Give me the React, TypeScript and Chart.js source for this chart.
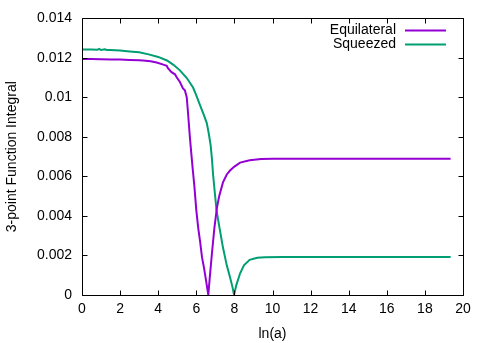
import { useEffect, useRef } from "react";
import { Chart, registerables } from "chart.js";

Chart.register(...registerables);

const seriesNames = ["Equilateral", "Squeezed"];
const seriesColors = ["#9400d3", "#009e73"];

const equiX = [0, 0.5, 1, 1.5, 2, 2.5, 3, 3.2, 3.6, 3.92, 4.27, 4.45, 4.5, 4.7, 4.88, 4.97, 5.14, 5.3, 5.4, 5.5, 5.55, 5.67, 5.8, 5.9, 6.0, 6.1, 6.2, 6.3, 6.4, 6.5, 6.63, 6.7, 6.82, 6.95, 7.08, 7.2, 7.4, 7.6, 7.77, 8.0, 8.3, 8.8, 9.4, 10, 12, 14, 16, 18, 19.35];
const equiY = [0.01194, 0.01194, 0.01193, 0.01192, 0.01192, 0.0119, 0.01188, 0.01187, 0.01183, 0.01177, 0.01166, 0.01160, 0.01149, 0.01128, 0.01117, 0.01102, 0.01078, 0.01046, 0.01036, 0.01000, 0.0094, 0.0079, 0.0065, 0.0055, 0.0043, 0.0034, 0.0027, 0.0019, 0.0014, 0.0008, 0, 0.0008, 0.0021, 0.0034, 0.0044, 0.0050, 0.0057, 0.0061, 0.0063, 0.0065, 0.0067, 0.00682, 0.00688, 0.0069, 0.0069, 0.0069, 0.0069, 0.0069, 0.0069];

const sqzX = [0, 0.5, 0.8, 0.9, 1.0, 1.2, 1.3, 1.5, 2, 2.5, 3.0, 3.5, 4.0, 4.46, 4.8, 5.14, 5.5, 5.83, 6.0, 6.2, 6.4, 6.55, 6.65, 6.75, 6.82, 6.88, 6.97, 7.06, 7.2, 7.4, 7.6, 7.77, 7.9, 7.98, 8.1, 8.3, 8.5, 8.8, 9.2, 9.6, 10.5, 12, 14, 16, 18, 19.35];
const sqzY = [0.01243, 0.01242, 0.01241, 0.01246, 0.01240, 0.01244, 0.01240, 0.01240, 0.01237, 0.01233, 0.01229, 0.01218, 0.01205, 0.01187, 0.01165, 0.01137, 0.01098, 0.0105, 0.0101, 0.0096, 0.0091, 0.0087, 0.0082, 0.0076, 0.0069, 0.0061, 0.0052, 0.0043, 0.0035, 0.0024, 0.0015, 0.0009, 0.0004, 0, 0.0005, 0.0011, 0.0015, 0.00178, 0.00188, 0.00191, 0.00192, 0.00192, 0.00192, 0.00192, 0.00192, 0.00192];

const xMin = 0, xMax = 20, xStep = 2;
const yMin = 0, yMax = 0.014, yStep = 0.002;
const xTitle = "ln(a)";
const yTitle = "3-point Function Integral";

const FONT = "'Liberation Sans', Arial, Helvetica, sans-serif";

const framePlugin = {
  id: "frame",
  afterDatasetsDraw(chart: any) {
    const { ctx, chartArea: a, scales } = chart;
    const L = Math.round(a.left) + 0.5;
    const R = Math.round(a.right) + 0.5;
    const T = Math.round(a.top) + 0.5;
    const B = Math.round(a.bottom) + 0.5;
    ctx.save();
    ctx.strokeStyle = "#000";
    ctx.lineWidth = 1;
    ctx.beginPath();
    ctx.rect(L, T, R - L, B - T);
    const tl = 5;
    scales.x.ticks.forEach((t: any) => {
      const px = Math.round(scales.x.getPixelForValue(t.value)) + 0.5;
      ctx.moveTo(px, B); ctx.lineTo(px, B - tl);
      ctx.moveTo(px, T); ctx.lineTo(px, T + tl);
    });
    scales.y.ticks.forEach((t: any) => {
      const py = Math.round(scales.y.getPixelForValue(t.value)) + 0.5;
      ctx.moveTo(L, py); ctx.lineTo(L + tl, py);
      ctx.moveTo(R, py); ctx.lineTo(R - tl, py);
    });
    ctx.stroke();
    // legend
    ctx.font = `14px ${FONT}`;
    ctx.textAlign = "right";
    ctx.textBaseline = "middle";
    chart.data.datasets.forEach((ds: any, i: number) => {
      const y = a.top + 12 + i * 14;
      ctx.fillStyle = "#000";
      ctx.fillText(ds.label, a.right - 67, y);
      ctx.strokeStyle = ds.borderColor;
      ctx.lineWidth = 2;
      ctx.beginPath();
      ctx.moveTo(a.right - 58, y);
      ctx.lineTo(a.right - 17, y);
      ctx.stroke();
    });
    ctx.restore();
  },
};

export default function App() {
  const ref = useRef<HTMLCanvasElement>(null);
  useEffect(() => {
    document.body.style.margin = "0";
    const datasets = [
      { label: seriesNames[0], data: equiX.map((x, i) => ({ x, y: equiY[i] })), borderColor: seriesColors[0] },
      { label: seriesNames[1], data: sqzX.map((x, i) => ({ x, y: sqzY[i] })), borderColor: seriesColors[1] },
    ].map((d) => ({ ...d, borderWidth: 2, pointRadius: 0, tension: 0, fill: false, backgroundColor: d.borderColor }));
    const chart = new Chart(ref.current!, {
      type: "line",
      data: { datasets },
      plugins: [framePlugin],
      options: {
        animation: false,
        responsive: false,
        maintainAspectRatio: false,
        layout: { padding: { left: 0, top: 18, right: 28, bottom: 0 } },
        plugins: { legend: { display: false }, tooltip: { enabled: false } },
        scales: {
          x: {
            type: "linear",
            min: xMin,
            max: xMax,
            grid: { display: false, drawTicks: false },
            border: { display: false },
            ticks: { stepSize: xStep, color: "#000", font: { family: FONT, size: 14 }, padding: 6, maxRotation: 0 },
            title: { display: true, text: xTitle, color: "#000", font: { family: FONT, size: 14 }, padding: { top: 3, bottom: 0 } },
            afterFit: (s: any) => { s.height = 48; },
          },
          y: {
            type: "linear",
            min: yMin,
            max: yMax,
            grid: { display: false, drawTicks: false },
            border: { display: false },
            ticks: {
              stepSize: yStep,
              color: "#000",
              font: { family: FONT, size: 14 },
              padding: 10,
              callback: (v: any) => String(parseFloat(Number(v).toFixed(3))),
            },
            title: { display: true, text: yTitle, color: "#000", font: { family: FONT, size: 14 }, padding: { top: 4, bottom: 0 } },
            afterFit: (s: any) => { s.width = 82; },
          },
        },
      } as any,
    });
    return () => chart.destroy();
  }, []);
  return (
    <div style={{ width: 491, height: 343 }}>
      <canvas ref={ref} width={491} height={343} style={{ display: "block" }} />
    </div>
  );
}
